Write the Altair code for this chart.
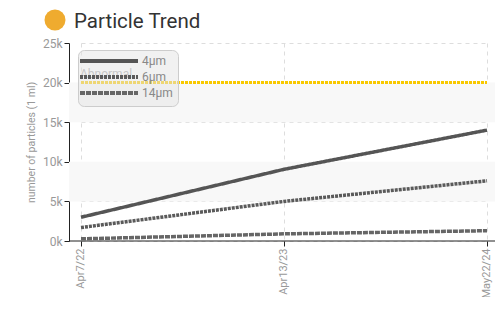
import altair as alt
import pandas as pd

dates = ["Apr7/22", "Apr13/23", "May22/24"]
series_names = ["4μm", "6μm", "14μm"]
values_4um = [3000, 9050, 14000]
values_6um = [1700, 5000, 7600]
values_14um = [270, 900, 1300]
abnormal_level = 20000
band_lows = [5000, 15000]
band_highs = [10000, 20000]
y_ticks = [0, 5000, 10000, 15000, 20000, 25000]

W, H = 426, 198
FONT = "Roboto"

rows = []
for name, vals in zip(series_names, [values_4um, values_6um, values_14um]):
    for d, v in zip(dates, vals):
        rows.append({"date": d, "series": name, "value": v})
df = pd.DataFrame(rows)
abn = pd.DataFrame({"date": dates, "value": [abnormal_level] * len(dates)})
bands = pd.DataFrame({"lo": band_lows, "hi": band_highs})
title_df = pd.DataFrame({"t": ["Particle Trend"]})

xscale = alt.Scale(type="point", domain=dates, padding=0, range=[12, 418])
yscale = alt.Scale(domain=[0, 25000], nice=False, zero=True)

xaxis = alt.Axis(title=None, labelAngle=-90, labelFont=FONT, labelFontSize=11,
                 labelColor="#999", domain=False, tickColor="#222",
                 grid=True, gridDash=[4, 4], gridColor="#ddd", labelPadding=2,
                 labelOverlap=False, labelOffset=-1)
yaxis = alt.Axis(title="number of particles (1 ml)", titleFont=FONT, titleFontSize=10.5,
                 titleFontWeight="normal", titleColor="#999", titlePadding=6,
                 values=y_ticks, tickCount=6, labelExpr="datum.value/1000 + 'k'",
                 labelFont=FONT, labelFontSize=12, labelColor="#999",
                 domainColor="#222", tickColor="#222", labelOverlap=False,
                 grid=True, gridDash=[4, 4], gridColor="#ddd")

X = alt.X("date:N", scale=xscale, sort=dates, axis=xaxis)
Y = alt.Y("value:Q", scale=yscale, axis=yaxis)

band_layer = alt.Chart(bands).mark_rect(color="#f8f8f8").encode(
    x=alt.value(0), x2=alt.value(W),
    y=alt.Y("lo:Q", scale=yscale, axis=yaxis), y2="hi:Q",
)

base_axes = alt.Chart(df).mark_line(opacity=0).encode(x=X, y=Y)

x_line = alt.Chart(bands.head(1)).mark_rule(color="#222", strokeWidth=1).encode(
    x=alt.value(0), x2=alt.value(W + 10), y=alt.value(H))

abn_line = alt.Chart(abn).mark_line(color="#f8c800", strokeWidth=3, strokeDash=[3, 1]).encode(
    x=X, y=Y,
)

abn_text = alt.Chart(abn.head(1)).mark_text(
    text="Abnormal", align="left", baseline="alphabetic", dy=-5,
    font=FONT, fontSize=12, color="#aaa").encode(
    x=alt.value(11), y=Y,
)

lines = alt.Chart(df).mark_line(strokeWidth=3.5).encode(
    x=X, y=Y,
    color=alt.Color("series:N", sort=series_names,
                    scale=alt.Scale(domain=series_names, range=["#555555", "#5a5a5a", "#666666"]),
                    legend=alt.Legend(title=None, orient="none", legendX=9, legendY=7,
                                      fillColor="rgba(228,228,228,0.5)", strokeColor="#ccc",
                                      cornerRadius=6, padding=5,
                                      symbolType="M-9.67,0H9.67", symbolSize=36,
                                      symbolOffset=20, symbolStrokeWidth=4,
                                      labelFont=FONT, labelFontSize=12, labelColor="#888",
                                      labelOffset=27, rowPadding=0)),
    strokeDash=alt.StrokeDash("series:N", sort=series_names,
                              scale=alt.Scale(domain=series_names, range=[[1, 0], [3, 1], [5, 1]])),
)

dot = alt.Chart(title_df).mark_circle(color="#efab2f", size=440, opacity=1).encode(
    x=alt.value(-14), y=alt.value(-23))
ttl = alt.Chart(title_df).mark_text(align="left", baseline="alphabetic", font="Roboto",
                                    fontSize=20.5, color="#333").encode(
    x=alt.value(5), y=alt.value(-15), text="t:N")

chart = alt.layer(base_axes, band_layer, x_line, abn_line, abn_text, lines, dot, ttl).properties(
    width=W, height=H,
    autosize=alt.AutoSizeParams(type="none"),
    padding={"left": 61, "top": 35, "right": 0, "bottom": 56},
).configure_view(stroke=None)

chart.save("out.html", embed_options={"renderer": "svg", "actions": False})
